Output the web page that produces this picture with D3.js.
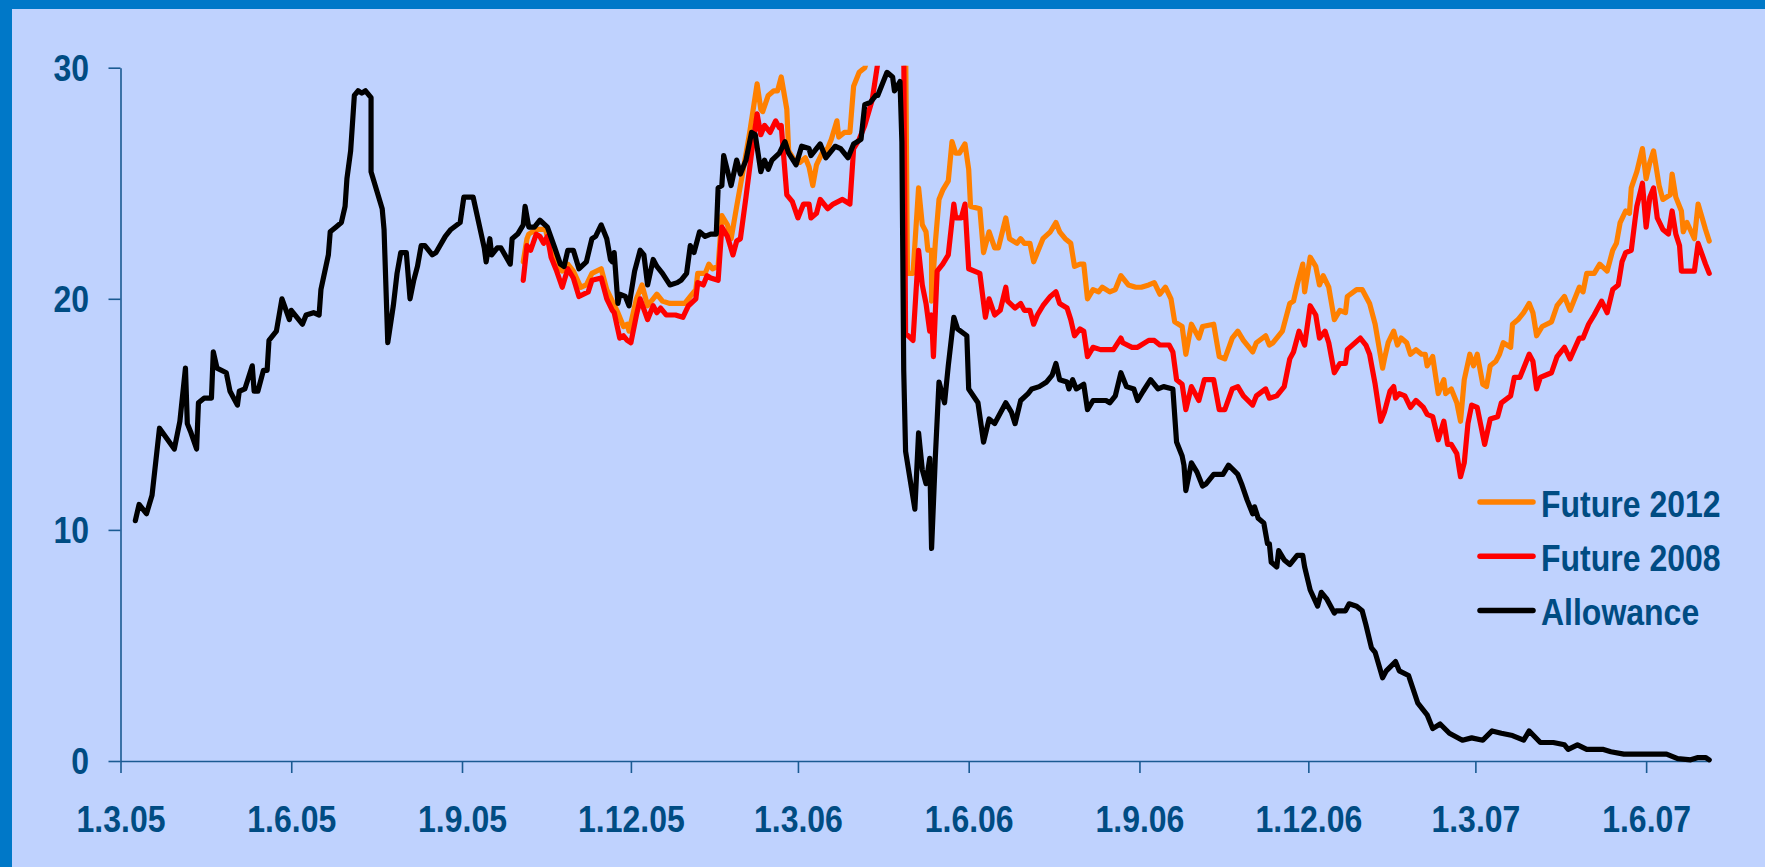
<!DOCTYPE html>
<html>
<head>
<meta charset="utf-8">
<script src="https://cdn.jsdelivr.net/npm/d3@7"></script>
<style>
  html, body { margin: 0; padding: 0; background: #0078c8; overflow: hidden; }
  svg { display: block; }
  text { font-family: "Liberation Sans", Arial, sans-serif; font-weight: bold; fill: #004c83; }
</style>
</head>
<body>
<div id="chart"></div>
<script>

// days counted from 1.3.05, value in EUR
var allowance = [
  [8,10.4],[10,11.1],[14,10.7],[17,11.5],[21,14.4],[29,13.5],[32,14.7],[35,17.0],[36,14.6],[38,14.2],
  [41,13.5],[42,15.5],[45,15.7],[49,15.7],[50,17.7],[52,17.0],[57,16.8],[59,16.0],[63,15.4],[64,16.0],
  [67,16.1],[71,17.1],[72,16.0],[74,16.0],[77,16.9],[79,16.9],[80,18.2],[84,18.6],[87,20.0],[91,19.1],
  [92,19.5],[98,18.9],[100,19.3],[104,19.4],[107,19.3],[108,20.4],[112,21.9],[113,22.9],[116,23.1],[119,23.3],
  [121,24.0],[122,25.2],[124,26.4],[126,28.8],[128,29.0],[130,28.9],[132,29.0],[135,28.7],[135,25.5],[141,23.9],
  [142,23.0],[144,18.1],[147,19.7],[149,21.1],[151,22.0],[154,22.0],[156,20.0],[158,20.8],[160,21.4],[162,22.3],
  [164,22.3],[168,21.9],[170,22.0],[175,22.7],[178,23.0],[183,23.3],[185,24.4],[190,24.4],[196,22.2],[197,21.6],
  [199,22.6],[200,21.9],[203,22.2],[205,22.2],[210,21.5],[211,22.6],[214,22.8],[217,23.2],[218,24.0],[220,23.1],
  [223,23.1],[226,23.4],[230,23.1],[234,22.2],[237,21.5],[239,21.4],[241,22.1],[244,22.1],[247,21.3],[251,21.6],
  [254,22.6],[256,22.7],[259,23.2],[262,22.6],[264,21.7],[265,21.6],[266,22.0],[268,19.8],[269,20.2],[272,20.1],
  [274,19.7],[277,21.2],[280,22.1],[282,21.9],[284,20.6],[287,21.7],[289,21.4],[292,21.1],[296,20.6],[300,20.7],
  [302,20.8],[305,21.1],[307,22.3],[309,22.0],[312,22.9],[315,22.7],[318,22.8],[321,22.8],[322,24.8],[324,24.9],
  [325,26.2],[329,24.9],[332,26.0],[334,25.4],[337,26.0],[340,27.2],[342,27.1],[345,25.5],[347,26.0],[349,25.6],
  [351,26.0],[355,26.3],[358,26.8],[360,26.3],[364,25.8],[367,26.6],[371,26.5],[372,26.2],[377,26.7],[380,26.1],
  [385,26.6],[388,26.5],[392,26.1],[395,26.7],[399,26.9],[401,28.4],[404,28.5],[407,28.8],[408,28.8],[411,29.4],
  [413,29.8],[416,29.6],[417,29.0],[420,29.4],[421,26.8],[422,16.9],[423,13.4],[428,10.9],[430,14.2],[432,12.6],
  [434,12.0],[436,13.1],[437,9.2],[439,13.1],[441,16.4],[444,15.5],[446,17.1],[449,19.2],[451,18.7],[456,18.4],
  [457,16.1],[462,15.5],[465,13.8],[468,14.8],[471,14.6],[477,15.5],[480,15.1],[482,14.6],[485,15.6],[489,15.9],
  [491,16.1],[495,16.2],[499,16.4],[502,16.7],[504,17.2],[506,16.5],[510,16.4],[511,16.1],[513,16.5],[515,16.1],
  [519,16.3],[521,15.2],[524,15.6],[528,15.6],[531,15.6],[533,15.5],[536,15.8],[539,16.8],[542,16.2],[546,16.1],
  [548,15.6],[551,16.0],[555,16.5],[559,16.1],[562,16.2],[567,16.1],[569,13.8],[572,13.2],[573,12.8],[574,11.7],
  [577,12.9],[580,12.5],[583,11.9],[585,12.0],[589,12.4],[594,12.4],[597,12.8],[602,12.4],[604,12.0],[607,11.3],
  [610,10.7],[611,11.0],[613,10.5],[616,10.3],[618,9.4],[619,9.4],[620,8.6],[623,8.4],[624,9.1],[627,8.7],
  [630,8.5],[634,8.9],[637,8.9],[638,8.4],[641,7.4],[645,6.7],[647,7.3],[650,7.0],[654,6.4],[655,6.5],
  [660,6.5],[662,6.8],[666,6.7],[669,6.5],[671,5.9],[674,4.9],[676,4.7],[680,3.6],[682,3.9],[687,4.3],
  [689,3.9],[694,3.7],[699,2.5],[704,2.0],[707,1.4],[711,1.6],[716,1.2],[723,0.9],[728,1.0],[734,0.9],
  [739,1.3],[744,1.2],[750,1.1],[756,0.9],[759,1.3],[765,0.8],[772,0.8],[778,0.7],[780,0.5],[785,0.7],
  [790,0.5],[799,0.5],[803,0.4],[810,0.3],[821,0.3],[833,0.3],[839,0.1],[846,0.05],[850,0.15],[854,0.15],
  [856,0.05]
];

var future2008 = [
  [217,20.8],[219,22.3],[221,22.1],[224,22.8],[226,22.7],[228,22.4],[230,22.7],[232,21.8],[235,21.2],[238,20.5],
  [241,21.3],[244,20.9],[247,20.1],[252,20.3],[254,20.8],[259,20.9],[262,20.0],[265,19.5],[266,19.4],[269,18.3],
  [271,18.4],[273,18.2],[275,18.1],[278,19.3],[280,20.0],[284,19.1],[287,19.7],[289,19.4],[291,19.6],[294,19.3],
  [299,19.3],[303,19.2],[306,19.7],[310,20.0],[311,20.7],[314,20.6],[316,21.0],[318,20.9],[322,20.8],[324,23.1],
  [327,22.7],[330,21.9],[332,22.5],[334,22.6],[337,24.4],[340,26.3],[343,28.0],[345,27.1],[347,27.5],[350,27.2],
  [353,27.7],[355,27.4],[356,27.5],[359,24.5],[362,24.2],[365,23.5],[368,24.1],[371,24.1],[372,23.5],[375,23.7],
  [377,24.3],[381,23.9],[384,24.1],[389,24.3],[393,24.1],[395,26.5],[398,26.9],[401,27.5],[405,28.6],[408,30.2],
  [412,31.0],[417,31.4],[422,31.0],[423,18.5],[427,18.2],[430,22.1],[432,20.6],[434,19.8],[436,18.6],[437,19.3],
  [438,17.5],[440,21.2],[443,21.5],[446,21.9],[449,24.1],[450,23.5],[453,23.5],[455,24.1],[457,21.3],[463,21.1],
  [466,19.2],[468,20.0],[471,19.3],[474,19.5],[477,20.5],[478,19.9],[482,19.6],[485,19.8],[487,19.5],[490,19.5],
  [492,18.9],[494,19.3],[497,19.7],[501,20.1],[504,20.3],[506,19.8],[510,19.6],[512,19.1],[514,18.4],[517,18.7],
  [519,18.6],[521,17.5],[524,17.9],[528,17.8],[531,17.8],[535,17.8],[539,18.3],[540,18.1],[545,17.9],[548,17.9],
  [554,18.2],[557,18.2],[560,18.0],[565,18.0],[567,17.7],[569,16.5],[572,16.3],[574,15.2],[577,16.2],[581,15.6],
  [584,16.5],[589,16.5],[592,15.2],[595,15.2],[599,16.1],[602,16.2],[605,15.8],[610,15.4],[612,15.8],[617,16.1],
  [619,15.7],[623,15.8],[627,16.2],[630,17.4],[632,17.7],[635,18.6],[638,18.0],[641,19.7],[644,19.3],[646,18.3],
  [649,18.6],[651,18.1],[654,16.8],[657,17.2],[660,17.2],[661,17.8],[668,18.3],[671,18.0],[673,17.6],[676,16.3],
  [679,14.7],[681,15.1],[684,16.0],[686,16.2],[687,15.7],[689,15.9],[692,15.8],[695,15.3],[698,15.6],[702,15.3],
  [704,15.0],[707,14.9],[710,13.9],[713,14.7],[715,13.7],[717,13.7],[720,13.3],[722,12.3],[724,12.9],[726,14.6],
  [728,15.4],[731,15.3],[733,14.5],[735,13.7],[738,14.8],[742,14.9],[744,15.5],[749,15.8],[751,16.6],[754,16.6],
  [759,17.6],[761,17.3],[763,16.1],[765,16.6],[771,16.8],[774,17.5],[778,17.9],[781,17.4],[786,18.3],[788,18.3],
  [791,18.9],[794,19.3],[798,19.9],[801,19.4],[804,20.4],[807,20.6],[809,21.6],[811,22.0],[814,22.1],[816,23.4],
  [817,24.0],[820,25.0],[822,23.1],[824,24.4],[826,24.8],[828,23.5],[831,23.0],[834,22.8],[836,23.8],[838,22.8],
  [840,22.3],[841,21.2],[844,21.2],[848,21.2],[850,22.4],[854,21.5],[856,21.1]
];

var future2012 = [
  [217,21.6],[219,22.6],[220,22.8],[224,23.0],[229,23.0],[231,22.3],[234,21.6],[238,21.2],[241,21.5],[244,21.2],
  [248,20.5],[251,20.6],[254,21.1],[259,21.3],[262,20.4],[265,19.9],[268,19.4],[271,18.8],[273,18.9],[274,18.6],
  [278,20.0],[281,20.6],[284,19.7],[287,20.0],[289,20.2],[292,19.9],[296,19.8],[304,19.8],[307,20.1],[310,20.4],
  [311,21.1],[315,21.1],[317,21.5],[319,21.3],[322,21.4],[324,23.6],[327,23.2],[329,22.6],[332,24.0],[336,25.8],
  [339,27.2],[343,29.3],[345,28.2],[346,28.1],[349,28.8],[352,29.0],[354,29.0],[356,29.6],[359,28.2],[360,26.4],
  [363,26.0],[366,25.9],[369,26.1],[371,25.7],[373,24.9],[375,25.8],[378,26.3],[381,26.5],[383,26.9],[386,27.7],
  [387,27.0],[390,27.2],[393,27.2],[395,29.2],[398,29.8],[401,30.0],[404,30.8],[410,31.4],[416,31.6],[423,31.2],
  [424,21.1],[427,21.1],[430,24.8],[432,23.2],[434,22.9],[435,22.1],[437,22.1],[437,19.9],[439,22.4],[441,24.3],
  [443,24.7],[446,25.1],[448,26.8],[450,26.3],[452,26.3],[455,26.7],[457,25.6],[458,24.0],[463,23.9],[465,22.0],
  [468,22.9],[471,22.2],[473,22.2],[477,23.5],[479,22.6],[483,22.4],[485,22.6],[487,22.4],[490,22.4],[492,21.6],
  [494,22.0],[497,22.6],[501,22.9],[504,23.3],[506,22.9],[509,22.6],[512,22.4],[514,21.4],[517,21.5],[519,21.5],
  [521,20.0],[524,20.4],[527,20.3],[529,20.5],[533,20.3],[536,20.4],[539,21.0],[543,20.6],[547,20.5],[550,20.5],
  [554,20.6],[557,20.7],[560,20.2],[563,20.5],[566,20.0],[568,19.0],[572,18.8],[574,17.6],[577,18.9],[581,18.3],
  [583,18.8],[589,18.9],[592,17.5],[595,17.4],[599,18.3],[602,18.6],[605,18.2],[610,17.7],[612,18.1],[617,18.4],
  [619,18.0],[621,18.1],[626,18.6],[630,19.8],[632,19.9],[634,20.6],[637,21.5],[638,20.3],[641,21.8],[644,21.4],
  [646,20.6],[648,21.0],[651,20.5],[654,19.1],[657,19.5],[660,19.4],[661,20.1],[666,20.4],[669,20.4],[673,19.8],
  [676,18.9],[680,17.0],[681,17.4],[683,18.1],[686,18.6],[688,18.0],[690,18.3],[693,18.1],[695,17.6],[698,17.8],
  [701,17.6],[703,17.6],[704,17.1],[707,17.5],[710,15.9],[713,16.5],[714,15.9],[717,16.1],[720,15.5],[722,14.7],
  [724,16.5],[727,17.6],[729,17.1],[731,17.6],[734,16.3],[736,16.2],[738,17.1],[741,17.3],[743,17.6],[745,18.1],
  [749,17.9],[750,18.9],[753,19.1],[756,19.4],[759,19.8],[761,19.4],[763,18.4],[766,18.8],[771,19.0],[774,19.7],
  [778,20.1],[781,19.5],[786,20.5],[788,20.3],[790,21.1],[794,21.1],[797,21.5],[801,21.2],[804,22.1],[806,22.4],
  [808,23.3],[811,23.8],[813,23.7],[814,24.8],[817,25.5],[820,26.5],[822,25.2],[824,25.9],[826,26.4],[829,24.9],
  [831,24.3],[835,24.5],[836,25.4],[838,24.4],[841,23.8],[842,22.9],[844,23.3],[848,22.6],[850,24.1],[854,23.0],
  [856,22.5]
];

var seriesNames = ["Future 2012", "Future 2008", "Allowance"];
var seriesColors = ["#ff8000", "#ff0000", "#000000"];
var yTicks = [0, 10, 20, 30];

var W = 1765, H = 867;
var start = new Date(Date.UTC(2005, 2, 1));
var lastDay = 856;

function toDate(d) { return d3.utcDay.offset(start, d); }

var svg = d3.select("#chart").append("svg")
    .attr("width", W)
    .attr("height", H);

svg.append("rect")
    .attr("x", 12).attr("y", 9)
    .attr("width", W - 12).attr("height", H - 9)
    .attr("fill", "#bfd2fe");

var x = d3.scaleUtc()
    .domain([start, toDate(lastDay)])
    .range([120.5, 120.5 + lastDay * 1.856]);

var y = d3.scaleLinear()
    .domain([0, 30])
    .range([761, 67.7]);

var axisColor = "#1a5a92";
var stretch = 1.16;   // the original text looks a bit tall

// y axis
var yAxis = svg.append("g")
    .attr("transform", "translate(" + x.range()[0] + ",0)")
    .call(d3.axisLeft(y).tickValues(yTicks).tickSize(12).tickSizeOuter(0).tickFormat(d3.format("d")));

// x axis
var xAxis = svg.append("g")
    .attr("transform", "translate(0," + y(0) + ")")
    .call(d3.axisBottom(x)
        .tickValues(d3.utcMonth.range(start, toDate(lastDay), 3))
        .tickSize(12).tickSizeOuter(0)
        .tickFormat(d3.utcFormat("%-d.%-m.%y")));

[xAxis, yAxis].forEach(function(a) {
    a.select(".domain").attr("stroke", axisColor).attr("stroke-width", 1.6);
    a.selectAll(".tick line").attr("stroke", axisColor).attr("stroke-width", 1.6);
    a.selectAll("text").attr("fill", null).style("font-size", "32px");
});

yAxis.selectAll(".tick text")
    .attr("x", -31.5).attr("dy", null).attr("y", 11)
    .attr("transform", "scale(1," + stretch + ")");

xAxis.selectAll(".tick text")
    .attr("dy", null).attr("y", 71 / stretch)
    .attr("transform", "scale(1," + stretch + ")");

// lines (clipped at 30 like the original)
svg.append("clipPath").attr("id", "plot")
  .append("rect")
    .attr("x", x.range()[0]).attr("y", y(30) - 2)
    .attr("width", x.range()[1] - x.range()[0] + 10)
    .attr("height", y(0) - y(30) + 10);

var line = d3.line()
    .x(function(d) { return x(toDate(d[0])); })
    .y(function(d) { return y(d[1]); });

var g = svg.append("g").attr("clip-path", "url(#plot)");

[future2012, future2008, allowance].forEach(function(s, i) {
    g.append("path")
        .datum(s)
        .attr("d", line)
        .attr("fill", "none")
        .attr("stroke", seriesColors[i])
        .attr("stroke-width", 5.2)
        .attr("stroke-linejoin", "round")
        .attr("stroke-linecap", "round");
});

// legend
var legend = svg.append("g").attr("transform", "translate(1480,502)");

seriesNames.forEach(function(name, i) {
    var row = legend.append("g").attr("transform", "translate(0," + (i * 54.2) + ")");
    row.append("line")
        .attr("x1", 0).attr("x2", 53)
        .attr("stroke", seriesColors[i])
        .attr("stroke-width", 5.5)
        .attr("stroke-linecap", "round");
    row.append("text")
        .attr("x", 61)
        .attr("y", 15 / stretch)
        .attr("transform", "scale(1," + stretch + ")")
        .style("font-size", "32px")
        .text(name);
});

</script>
</body>
</html>
